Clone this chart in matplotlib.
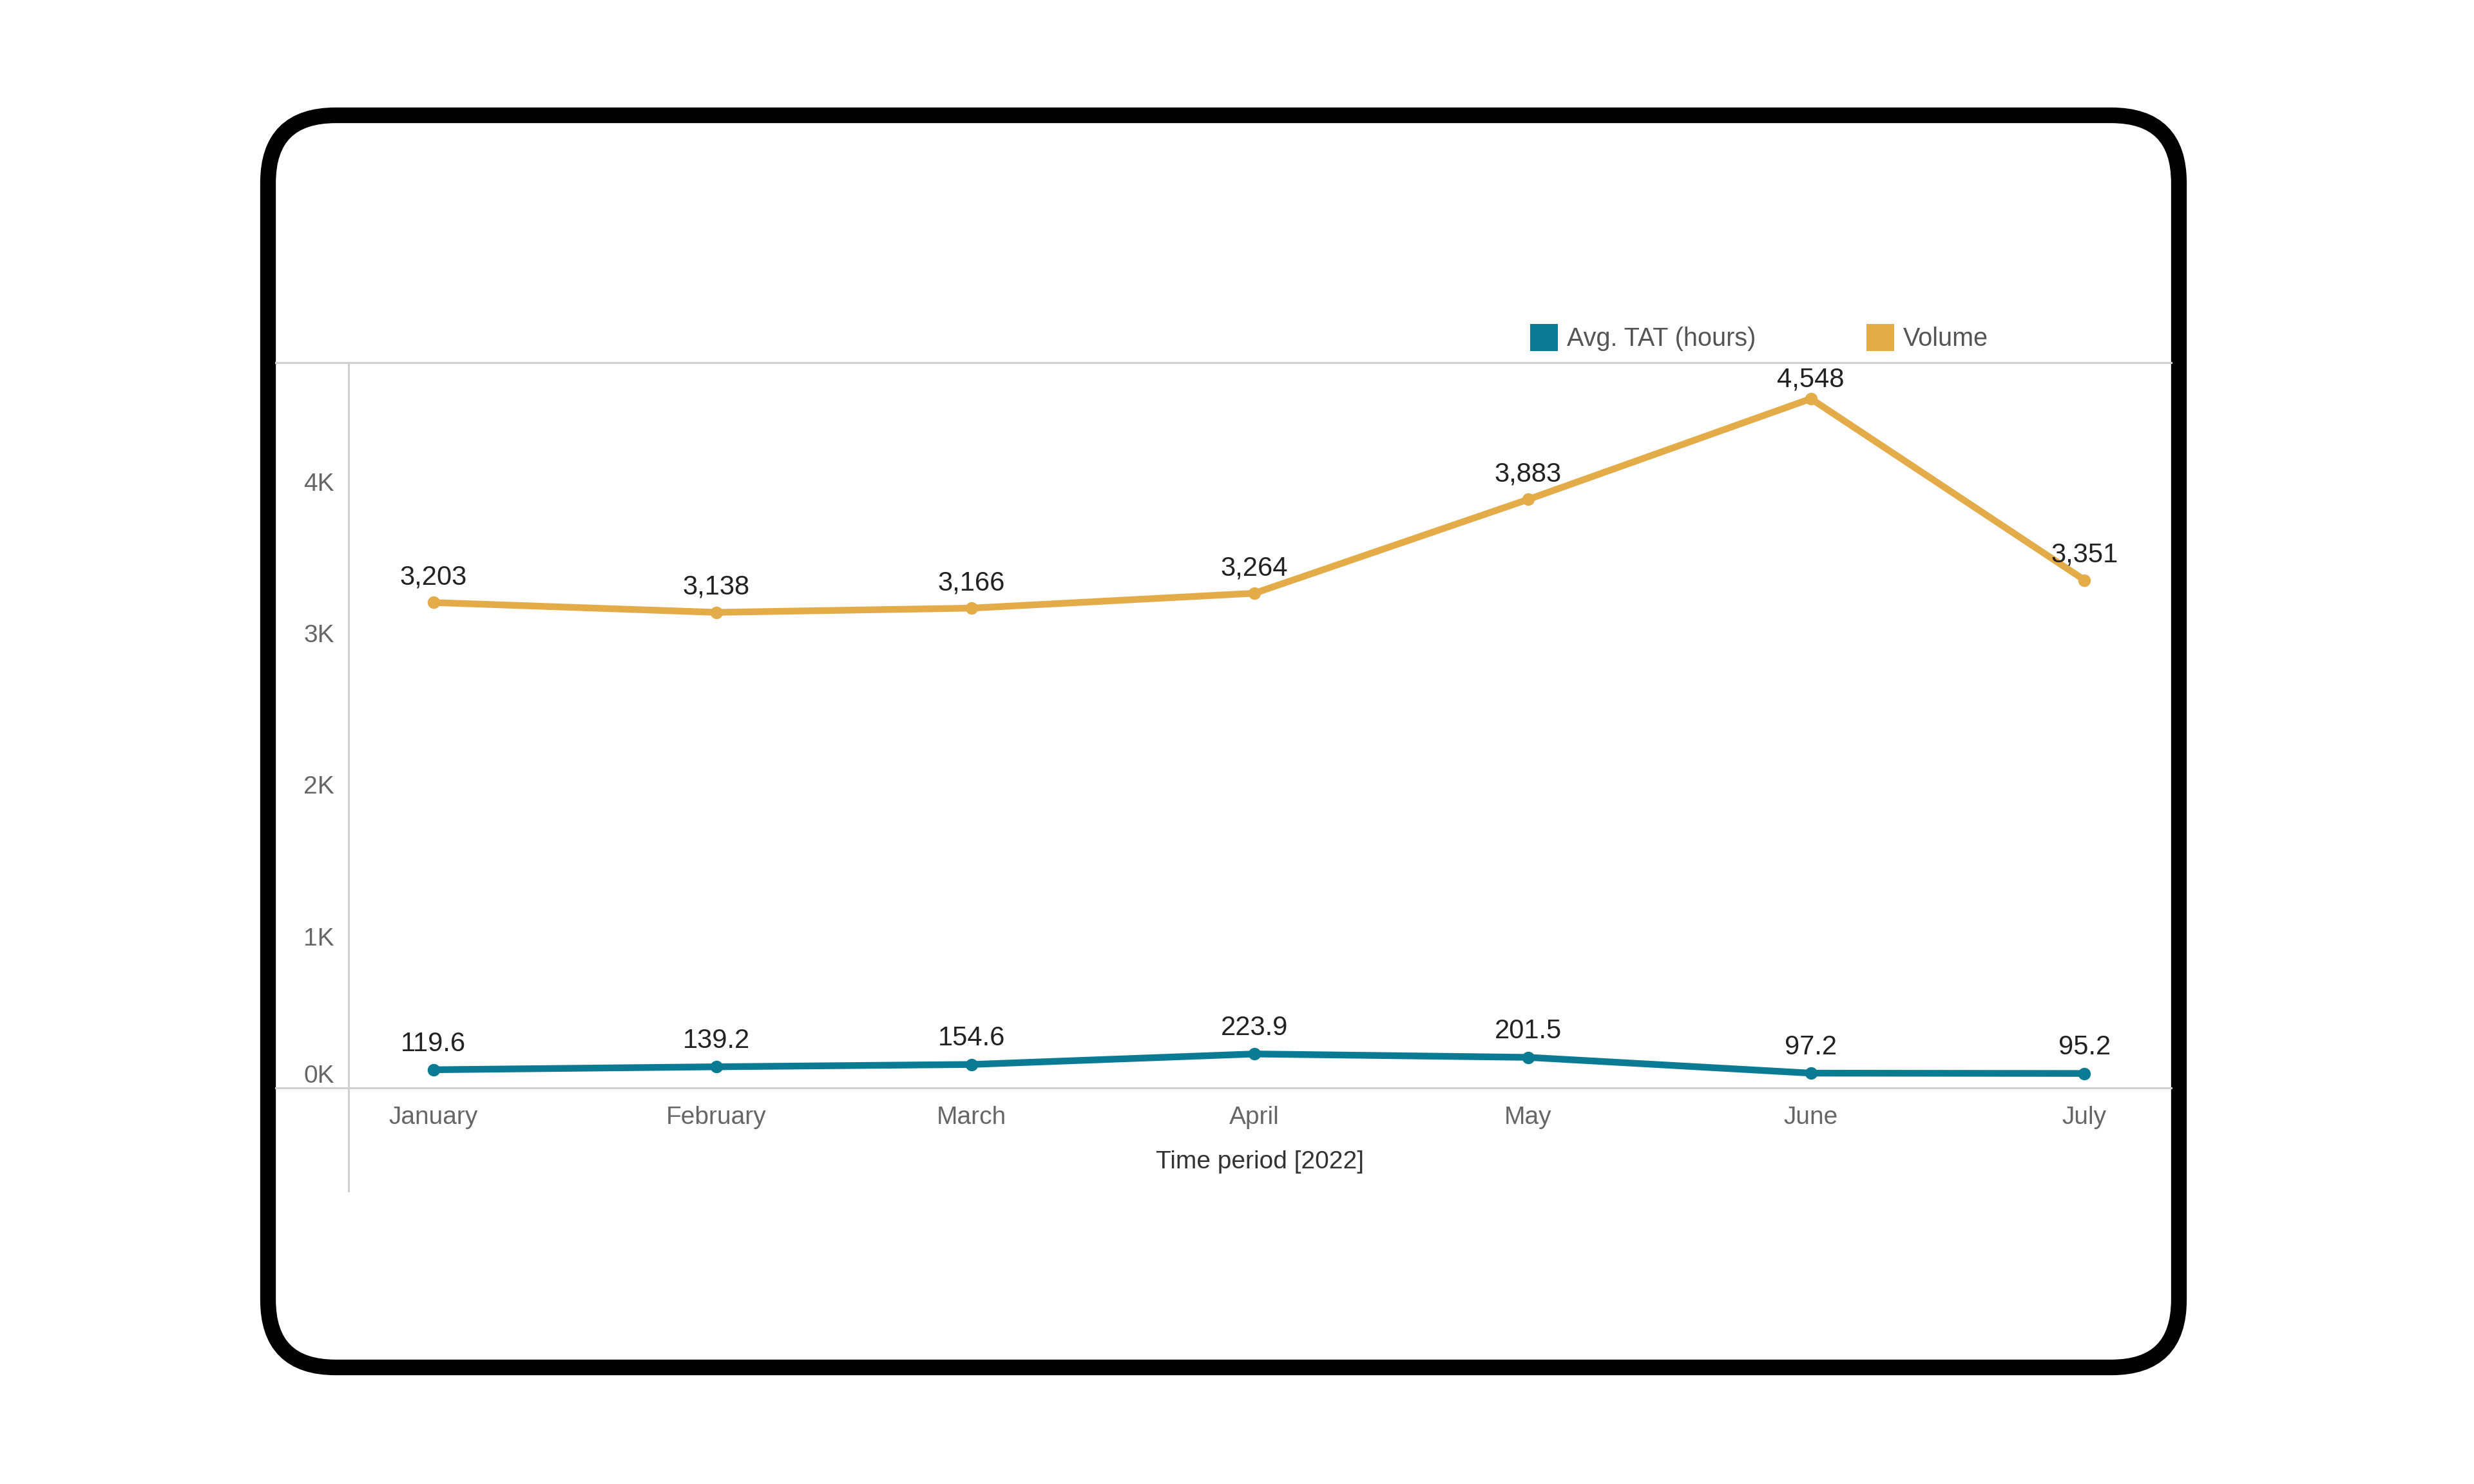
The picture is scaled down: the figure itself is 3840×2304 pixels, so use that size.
import matplotlib
matplotlib.use("Agg")
import matplotlib.pyplot as plt
from matplotlib.patches import FancyBboxPatch, Rectangle
import pandas as pd

# ---- data ----
months = ["January", "February", "March", "April", "May", "June", "July"]
dates = pd.to_datetime(["2022-01-01", "2022-02-01", "2022-03-01", "2022-04-01",
                        "2022-05-01", "2022-06-01", "2022-07-01"])
avg_tat = [119.6, 139.2, 154.6, 223.9, 201.5, 97.2, 95.2]
volume = [3203, 3138, 3166, 3264, 3883, 4548, 3351]
yticks = [0, 1000, 2000, 3000, 4000]
ytick_labels = ["0K", "1K", "2K", "3K", "4K"]
series_names = ["Avg. TAT (hours)", "Volume"]

TEAL = "#0B7B93"
GOLD = "#E3AC48"
FONT = ["Liberation Sans", "DejaVu Sans"]
plt.rcParams["font.family"] = FONT

W, H = 3840, 2304
fig = plt.figure(figsize=(W / 100, H / 100), dpi=100)

# background / frame axes in pixel coordinates
bg = fig.add_axes([0, 0, 1, 1])
bg.set_xlim(0, W)
bg.set_ylim(H, 0)
bg.axis("off")
frame = FancyBboxPatch((416, 179), 3382 - 416, 2123 - 179,
                       boxstyle="round,pad=0,rounding_size=105",
                       fill=False, edgecolor="black", linewidth=17.5)
bg.add_patch(frame)
# structural grid lines
bg.plot([428, 3370], [563, 563], color="#d0d0d0", lw=2.2)
bg.plot([428, 3370], [1689, 1689], color="#d0d0d0", lw=2.2)
bg.plot([541, 541], [563, 1849], color="#d0d0d0", lw=2.2)

# legend
for (x0, name, col) in [(2375, series_names[0], TEAL), (2897, series_names[1], GOLD)]:
    bg.add_patch(Rectangle((x0, 503), 43, 42, facecolor=col, edgecolor="none"))
    bg.text(x0 + 57, 526, name, fontsize=28.5, color="#555555", va="center", ha="left")

# main axes
left, right, top, bottom = 541, 3370, 563, 1689
ax = fig.add_axes([left / W, 1 - bottom / H, (right - left) / W, (bottom - top) / H])
ax.patch.set_alpha(0)
for s in ax.spines.values():
    s.set_visible(False)

ax.plot(dates, volume, color=GOLD, lw=7.5, marker="o", markersize=13, zorder=3,
        solid_capstyle="round")
ax.plot(dates, avg_tat, color=TEAL, lw=7.5, marker="o", markersize=13, zorder=3,
        solid_capstyle="round")

ymax = 4786
for d, v in zip(dates, volume):
    off = 21 if v == max(volume) else 28
    ax.annotate(f"{v:,}", (d, v), xytext=(0, off), textcoords="offset points",
                ha="center", va="center", fontsize=30, color="#222222")
for d, v in zip(dates, avg_tat):
    ax.annotate(f"{v:.1f}", (d, v), xytext=(0, 29), textcoords="offset points",
                ha="center", va="center", fontsize=30, color="#222222")

ax.set_ylim(0, ymax)
ax.set_xlim(dates[0] - pd.Timedelta(days=9.3), dates[-1] + pd.Timedelta(days=9.5))
ax.set_yticks(yticks)
ax.set_yticklabels(ytick_labels)
ax.set_xticks(dates)
ax.set_xticklabels(months)
ax.tick_params(axis="y", length=0, pad=16, labelsize=28, labelcolor="#666666")
ax.tick_params(axis="x", length=0, pad=20, labelsize=28, labelcolor="#666666")
ax.get_yticklabels()[0].set_va("bottom")
ax.set_xlabel("Time period [2022]", fontsize=28, color="#333333", labelpad=24)

fig.savefig("out.png", dpi=100, facecolor="white")
